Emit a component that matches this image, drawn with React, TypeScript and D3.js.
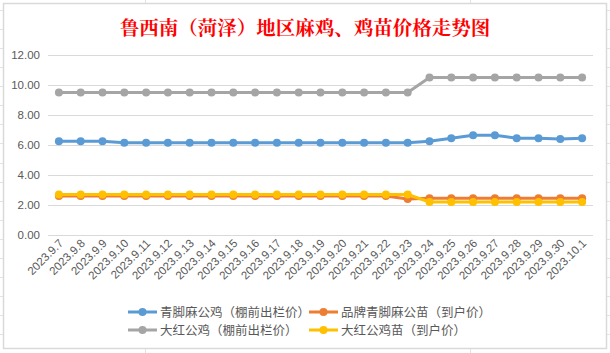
import React from 'react'
import * as d3 from 'd3'

// dates on the x axis
const dates = [
  '2023.9.7', '2023.9.8', '2023.9.9', '2023.9.10', '2023.9.11', '2023.9.12',
  '2023.9.13', '2023.9.14', '2023.9.15', '2023.9.16', '2023.9.17', '2023.9.18',
  '2023.9.19', '2023.9.20', '2023.9.21', '2023.9.22', '2023.9.23', '2023.9.24',
  '2023.9.25', '2023.9.26', '2023.9.27', '2023.9.28', '2023.9.29', '2023.9.30',
  '2023.10.1',
]

// 青脚麻公鸡（棚前出栏价）
const qingjiaoGongji = [
  6.25, 6.25, 6.25, 6.15, 6.15, 6.15, 6.15, 6.15, 6.15, 6.15, 6.15, 6.15,
  6.15, 6.15, 6.15, 6.15, 6.15, 6.25, 6.45, 6.65, 6.65, 6.45, 6.45, 6.4, 6.45,
]
// 品牌青脚麻公苗（到户价）
const pinpaiMiao = [
  2.6, 2.6, 2.6, 2.6, 2.6, 2.6, 2.6, 2.6, 2.6, 2.6, 2.6, 2.6,
  2.6, 2.6, 2.6, 2.6, 2.4, 2.45, 2.45, 2.45, 2.45, 2.45, 2.45, 2.45, 2.45,
]
// 大红公鸡（棚前出栏价）
const dahongGongji = [
  9.5, 9.5, 9.5, 9.5, 9.5, 9.5, 9.5, 9.5, 9.5, 9.5, 9.5, 9.5,
  9.5, 9.5, 9.5, 9.5, 9.5, 10.5, 10.5, 10.5, 10.5, 10.5, 10.5, 10.5, 10.5,
]
// 大红公鸡苗（到户价）
const dahongMiao = [
  2.7, 2.7, 2.7, 2.7, 2.7, 2.7, 2.7, 2.7, 2.7, 2.7, 2.7, 2.7,
  2.7, 2.7, 2.7, 2.7, 2.7, 2.2, 2.2, 2.2, 2.2, 2.2, 2.2, 2.2, 2.2,
]

const yTicks = [0, 2, 4, 6, 8, 10, 12]

const series = [
  {name: '青脚麻公鸡（棚前出栏价）', values: qingjiaoGongji, color: '#5B9BD5'},
  {name: '品牌青脚麻公苗（到户价）', values: pinpaiMiao, color: '#ED7D31'},
  {name: '大红公鸡（棚前出栏价）', values: dahongGongji, color: '#A5A5A5'},
  {name: '大红公鸡苗（到户价）', values: dahongMiao, color: '#FFC000'},
]

const W = 610
const H = 353
const plot = {left: 48, right: 593, top: 55, bottom: 235}
const cjk = '"Noto Sans CJK SC", "Noto Sans", sans-serif'

function App() {
  const x = d3
    .scalePoint<string>()
    .domain(dates)
    .range([plot.left, plot.right])
    .padding(0.5)
  const y = d3.scaleLinear().domain([0, 12]).range([plot.bottom, plot.top])

  const line = d3
    .line<number>()
    .x((d, i) => x(dates[i]) as number)
    .y(d => y(d))

  // faint spreadsheet cells behind the chart
  const rows = d3.range(10, H, 19.07)

  return (
    <svg
      width={W}
      height={H}
      style={{position: 'absolute', left: 0, top: 0, background: '#fff'}}>
      <g stroke="#E3E3E3" strokeWidth={1}>
        {rows.map(r => (
          <line key={'l' + r} x1={0} x2={W} y1={Math.round(r) + 0.5} y2={Math.round(r) + 0.5} />
        ))}
        <line x1={145.5} x2={145.5} y1={0} y2={H} />
        <line x1={470.5} x2={470.5} y1={0} y2={H} />
      </g>
      <rect x={3.5} y={3.5} width={603} height={345} fill="#fff" stroke="#D9D9D9" strokeWidth={1.5} />

      <text
        x={305}
        y={35}
        textAnchor="middle"
        fill="#FF0000"
        fontSize={19.5}
        fontWeight="bold"
        fontFamily={'"Noto Serif CJK SC", ' + cjk}>
        鲁西南（菏泽）地区麻鸡、鸡苗价格走势图
      </text>

      {/* gridlines + y labels */}
      {yTicks.map(t => (
        <g key={t}>
          <line
            x1={plot.left}
            x2={plot.right}
            y1={Math.round(y(t)) + 0.5}
            y2={Math.round(y(t)) + 0.5}
            stroke="#D9D9D9"
          />
          <text
            x={40}
            y={y(t) + 4}
            textAnchor="end"
            fontSize={11.5}
            fill="#595959"
            fontFamily='"Liberation Sans", Arial, sans-serif'>
            {d3.format('.2f')(t)}
          </text>
        </g>
      ))}

      {/* x labels */}
      {dates.map(d => (
        <text
          key={d}
          transform={`translate(${(x(d) as number) + 5},${244}) rotate(-45)`}
          textAnchor="end"
          fontSize={11.5}
          fill="#595959"
          fontFamily='"Liberation Sans", Arial, sans-serif'>
          {d}
        </text>
      ))}

      {/* series */}
      {series.map(s => (
        <g key={s.name}>
          <path
            d={line(s.values) as string}
            fill="none"
            stroke={s.color}
            strokeWidth={3}
            strokeLinejoin="round"
          />
          {s.values.map((v, i) => (
            <circle key={i} cx={x(dates[i])} cy={y(v)} r={4} fill={s.color} />
          ))}
        </g>
      ))}

      {/* legend */}
      {series.map((s, i) => {
        const lx = i % 2 === 0 ? 128 : 309
        const ly = i < 2 ? 312 : 330
        return (
          <g key={'lg' + s.name}>
            <line x1={lx} x2={lx + 29} y1={ly} y2={ly} stroke={s.color} strokeWidth={3} />
            <circle cx={lx + 14.5} cy={ly} r={4} fill={s.color} />
            <text
              x={lx + 32}
              y={ly + 4.5}
              fontSize={12.5}
              fill="#595959"
              fontFamily={cjk}>
              {s.name}
            </text>
          </g>
        )
      })}
    </svg>
  )
}

export default App
